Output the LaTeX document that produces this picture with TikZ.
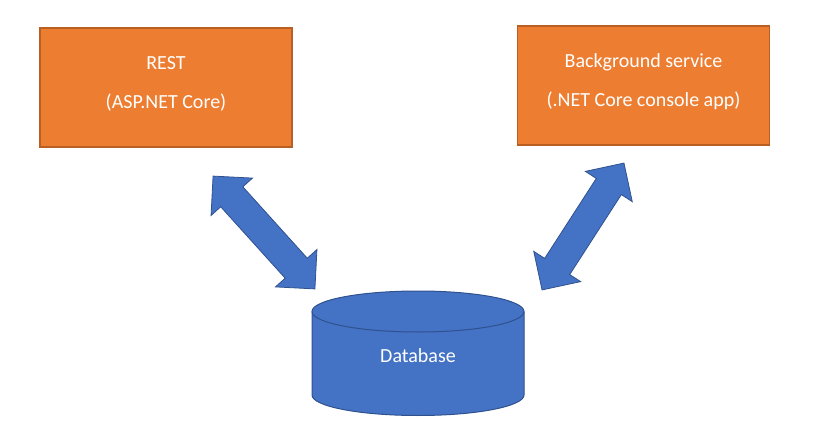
\documentclass[tikz,border=0pt]{standalone}
\usepackage{fontspec}
\setmainfont{Carlito}
\usepackage{tikz}
\usetikzlibrary{shapes.arrows}

\definecolor{boxorange}{HTML}{ED7D31}
\definecolor{boxedge}{HTML}{B95F22}
\definecolor{dbblue}{HTML}{4472C4}
\definecolor{dbedge}{HTML}{2F528F}

\begin{document}
\begin{tikzpicture}
	[x=1pt,y=-1pt,
	app/.style={rectangle,fill=boxorange,draw=boxedge,line width=1.5pt,minimum width=252pt,minimum height=119pt},
	applabel/.style={text=white,align=center,font=\fontsize{20}{24}\selectfont},
	dbpart/.style={fill=dbblue,draw=dbedge,line width=1pt},
	dbl/.style={double arrow,fill=dbblue,draw=dbedge,line width=0.8pt,inner xsep=0pt,inner ysep=14.5pt,double arrow head extend=13pt,double arrow tip angle=90}]
	\useasboundingbox (0,0) rectangle (839,436);
	\node (rest) [app] at (166,87.5) {};
	\node (restlbl) [applabel] at ([yshift=4pt]rest.center) {REST\\[15pt](ASP.NET Core)};
	\node (svc) [app] at (643.5,85.5) {};
	\node (svclbl) [applabel] at ([yshift=4pt]svc.center) {Background service\\[15pt](.NET Core console app)};
	% database cylinder
	\filldraw[dbpart] (312,311.5) -- (312,395) arc[start angle=180,end angle=0,x radius=106,y radius=20.5] -- (524,311.5);
	\filldraw[dbpart] (418,311.5) ellipse[x radius=106,y radius=20.5];
	\node (db) [applabel] at (418,356) {Database};
	\coordinate (a1) at (213,176);
	\coordinate (a2) at (315,289);
	\coordinate (b1) at (624,163);
	\coordinate (b2) at (542,290);
	\foreach \from/\to/\len in {a1/a2/152,b1/b2/151}
	\path (\from) -- node[dbl,sloped,minimum height=\len pt] {} (\to);
\end{tikzpicture}
\end{document}
